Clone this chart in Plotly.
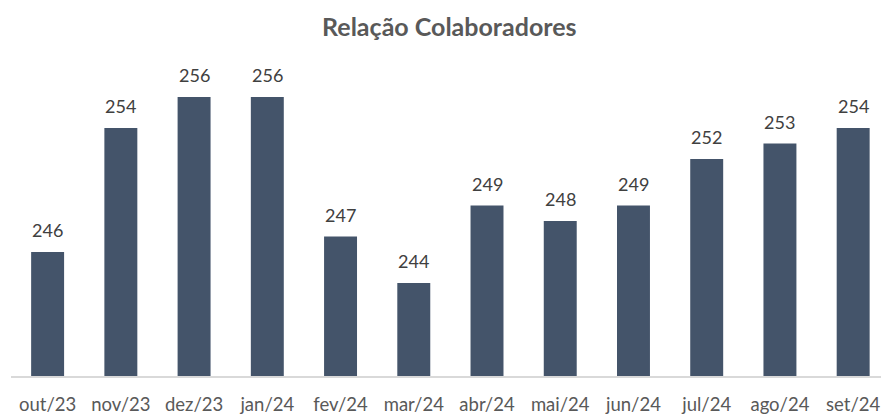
import plotly.graph_objects as go

categories = ["out/23", "nov/23", "dez/23", "jan/24", "fev/24", "mar/24",
              "abr/24", "mai/24", "jun/24", "jul/24", "ago/24", "set/24"]
values = [246, 254, 256, 256, 247, 244, 249, 248, 249, 252, 253, 254]
title_text = "Relação Colaboradores"

FONT = "Lato"

fig = go.Figure(go.Bar(
    x=categories, y=values,
    marker=dict(color="#44546A", line=dict(width=0)),
    width=0.45,
    cliponaxis=False,
    hoverinfo="skip",
))

for c, v in zip(categories, values):
    fig.add_annotation(x=c, y=v, text=str(v), showarrow=False,
                       yanchor="middle", yshift=22,
                       font=dict(family=FONT, size=18, color="#404040"))

fig.update_layout(
    width=881, height=415,
    margin=dict(l=11, r=0, t=66, b=39),
    paper_bgcolor="white", plot_bgcolor="white",
    title=dict(text="<b>" + title_text + "</b>", x=0.51, xanchor="center",
               y=0.935, yanchor="middle",
               font=dict(family=FONT, size=25, color="#595959")),
    showlegend=False,
)
fig.update_xaxes(
    range=[-0.5, 11.38], showgrid=False, showline=True,
    linecolor="#D9D9D9", linewidth=1.5,
    ticks="outside", ticklen=11, tickcolor="rgba(0,0,0,0)",
    tickfont=dict(family=FONT, size=18.5, color="#595959"),
)
fig.update_yaxes(range=[238, 258], visible=False, showgrid=False)

fig.write_html("out.html", config={"displayModeBar": False},
               post_script="document.body.style.margin='0';document.body.style.overflow='hidden';")
